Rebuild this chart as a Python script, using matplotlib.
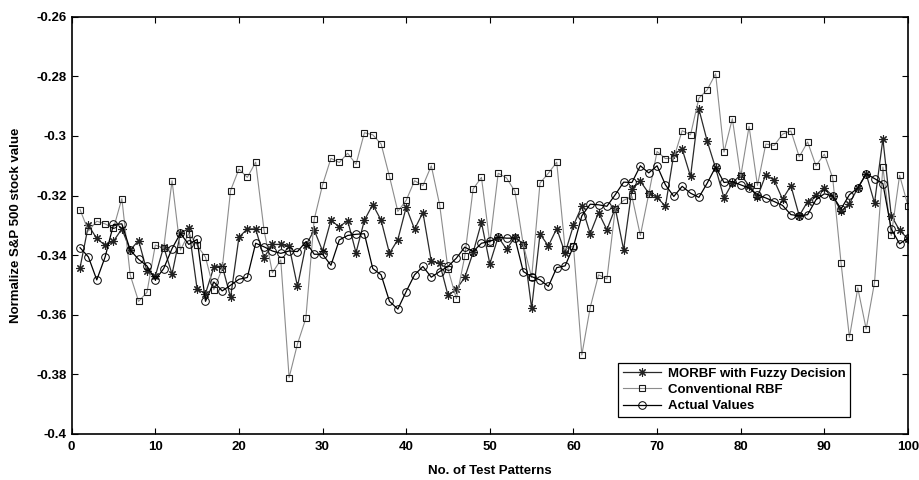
import numpy as np
import matplotlib
matplotlib.use('Agg')
from matplotlib import pyplot as plt

# values, one per test pattern (1..100)
morbf = [-0.3442, -0.3300, -0.3344, -0.3367, -0.3353, -0.3312, -0.3383, -0.3351, -0.3453, -0.3470,
         -0.3372, -0.3464, -0.3327, -0.3310, -0.3514, -0.3529, -0.3440, -0.3436, -0.3542, -0.3340,
         -0.3312, -0.3312, -0.3408, -0.3364, -0.3364, -0.3370, -0.3505, -0.3367, -0.3316, -0.3386,
         -0.3283, -0.3305, -0.3284, -0.3392, -0.3283, -0.3230, -0.3283, -0.3394, -0.3348, -0.3239,
         -0.3313, -0.3257, -0.3421, -0.3427, -0.3535, -0.3514, -0.3475, -0.3391, -0.3290, -0.3429,
         -0.3339, -0.3380, -0.3340, -0.3362, -0.3578, -0.3329, -0.3369, -0.3311, -0.3393, -0.3300,
         -0.3236, -0.3328, -0.3257, -0.3315, -0.3242, -0.3382, -0.3178, -0.3152, -0.3192, -0.3206,
         -0.3236, -0.3060, -0.3044, -0.3136, -0.2910, -0.3018, -0.3108, -0.3208, -0.3158, -0.3130,
         -0.3167, -0.3205, -0.3130, -0.3149, -0.3212, -0.3167, -0.3268, -0.3220, -0.3197, -0.3175,
         -0.3201, -0.3253, -0.3227, -0.3175, -0.3127, -0.3225, -0.3010, -0.3267, -0.3317, -0.3345]

rbf = [-0.3247, -0.3319, -0.3286, -0.3295, -0.3310, -0.3210, -0.3467, -0.3555, -0.3525, -0.3366,
       -0.3377, -0.3150, -0.3383, -0.3328, -0.3367, -0.3407, -0.3516, -0.3445, -0.3183, -0.3111,
       -0.3139, -0.3088, -0.3316, -0.3459, -0.3416, -0.3811, -0.3698, -0.3612, -0.3280, -0.3164,
       -0.3075, -0.3089, -0.3058, -0.3095, -0.2989, -0.2996, -0.3027, -0.3136, -0.3253, -0.3216,
       -0.3150, -0.3167, -0.3100, -0.3231, -0.3447, -0.3546, -0.3404, -0.3178, -0.3139, -0.3360,
       -0.3125, -0.3141, -0.3186, -0.3365, -0.3475, -0.3158, -0.3125, -0.3088, -0.3380, -0.3369,
       -0.3735, -0.3576, -0.3466, -0.3480, -0.3244, -0.3216, -0.3203, -0.3334, -0.3195, -0.3052,
       -0.3076, -0.3074, -0.2982, -0.2996, -0.2873, -0.2845, -0.2791, -0.3054, -0.2942, -0.3136,
       -0.2968, -0.3166, -0.3027, -0.3032, -0.2994, -0.2983, -0.3070, -0.3020, -0.3100, -0.3061,
       -0.3141, -0.3427, -0.3676, -0.3510, -0.3648, -0.3492, -0.3104, -0.3334, -0.3132, -0.3234]

actual = [-0.3375, -0.3406, -0.3483, -0.3406, -0.3297, -0.3295, -0.3383, -0.3414, -0.3436, -0.3483,
          -0.3445, -0.3378, -0.3327, -0.3364, -0.3347, -0.3555, -0.3490, -0.3520, -0.3501, -0.3481,
          -0.3475, -0.3360, -0.3372, -0.3386, -0.3394, -0.3386, -0.3388, -0.3355, -0.3397, -0.3397,
          -0.3434, -0.3349, -0.3334, -0.3330, -0.3328, -0.3445, -0.3466, -0.3555, -0.3581, -0.3522,
          -0.3466, -0.3438, -0.3474, -0.3455, -0.3438, -0.3410, -0.3373, -0.3388, -0.3360, -0.3354,
          -0.3340, -0.3343, -0.3343, -0.3455, -0.3472, -0.3483, -0.3505, -0.3442, -0.3436, -0.3371,
          -0.3268, -0.3229, -0.3231, -0.3236, -0.3197, -0.3155, -0.3156, -0.3100, -0.3124, -0.3100,
          -0.3164, -0.3203, -0.3169, -0.3192, -0.3206, -0.3158, -0.3104, -0.3156, -0.3153, -0.3164,
          -0.3175, -0.3197, -0.3208, -0.3220, -0.3233, -0.3264, -0.3268, -0.3264, -0.3214, -0.3194,
          -0.3201, -0.3245, -0.3197, -0.3175, -0.3127, -0.3143, -0.3160, -0.3312, -0.3362, -0.3343]

patterns = np.arange(1, len(actual) + 1)
x_ticks = list(range(0, 101, 10))
y_ticks = [-0.4, -0.38, -0.36, -0.34, -0.32, -0.3, -0.28, -0.26]
y_labels = ['-0.4', '-0.38', '-0.36', '-0.34', '-0.32', '-0.3', '-0.28', '-0.26']

plt.rcParams['font.family'] = ['Liberation Sans', 'DejaVu Sans']
plt.rcParams['font.weight'] = 'bold'

fig = plt.figure(figsize=(9.19, 4.8), dpi=100)
ax = fig.add_axes([0.078, 0.096, 0.91, 0.869])

# matlab-style asterisk: 8 arms
ax.plot(patterns, morbf, color='#2a2a2a', lw=0.9, marker=(8, 2, 0), ms=6,
        mfc='#222222', mec='#222222', mew=0.8, label='MORBF with Fuzzy Decision')
ax.plot(patterns, rbf, color='#8c8c8c', lw=0.8, marker='s', ms=5,
        mfc='none', mec='#1a1a1a', mew=0.8, label='Conventional RBF')
ax.plot(patterns, actual, color='black', lw=0.9, marker='o', ms=5.5,
        mfc='none', mec='black', mew=0.7, label='Actual Values')

ax.set_xlim(0, 100)
ax.set_ylim(-0.4, -0.26)
ax.set_xticks(x_ticks)
ax.set_yticks(y_ticks)
ax.set_yticklabels(y_labels)
ax.tick_params(direction='in', top=True, right=True, labelsize=9.5, length=4, width=0.8)
ax.tick_params(axis='x', pad=5)
for lbl in ax.get_xticklabels() + ax.get_yticklabels():
    lbl.set_fontweight('bold')
for s in ax.spines.values():
    s.set_linewidth(1.2)

ax.set_xlabel('No. of Test Patterns', fontsize=9.5, fontweight='bold', labelpad=9)
ax.set_ylabel('Normalize S&P 500 stock value', fontsize=9.5, fontweight='bold', labelpad=10)

leg = ax.legend(loc='lower right', bbox_to_anchor=(0.931, 0.041), borderaxespad=0,
                fancybox=False, framealpha=1, edgecolor='black', fontsize=9.5,
                handlelength=2.9, borderpad=0.35, labelspacing=0.3, handletextpad=0.5)
leg.get_frame().set_linewidth(0.9)
for t in leg.get_texts():
    t.set_fontweight('bold')

fig.savefig('out.png', dpi=100)
